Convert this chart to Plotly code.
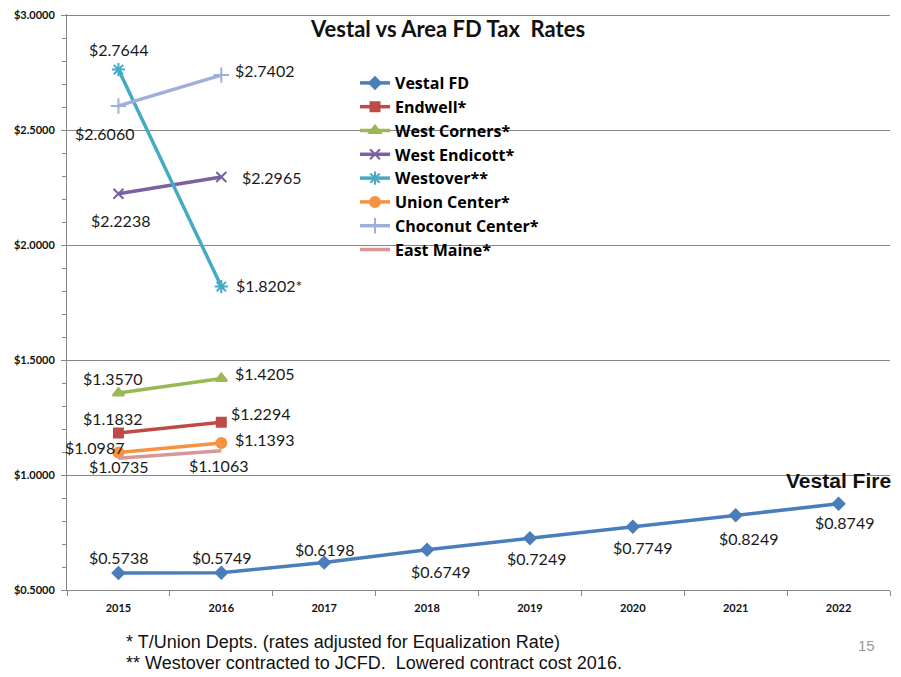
import plotly.graph_objects as go

years = ["2015", "2016", "2017", "2018", "2019", "2020", "2021", "2022"]

vestal_fd = [0.5738, 0.5749, 0.6198, 0.6749, 0.7249, 0.7749, 0.8249, 0.8749]
endwell = [1.1832, 1.2294]
west_corners = [1.3570, 1.4205]
west_endicott = [2.2238, 2.2965]
westover = [2.7644, 1.8202]
union_center = [1.0987, 1.1393]
choconut_center = [2.6060, 2.7402]
east_maine = [1.0735, 1.1063]

y_ticks = [0.5, 1.0, 1.5, 2.0, 2.5, 3.0]

series_names = ["Vestal FD", "Endwell*", "West Corners*", "West Endicott*",
                "Westover**", "Union Center*", "Choconut Center*", "East Maine*"]
series_values = [vestal_fd, endwell, west_corners, west_endicott,
                 westover, union_center, choconut_center, east_maine]

# styles
colors = ["#4A7EBB", "#BE4B48", "#98B954", "#7D60A0",
          "#46AAC5", "#F69240", "#A0AEDC", "#D99795"]
symbols = ["diamond", "square", "triangle-up", "x-thin-open",
           "asterisk-open", "circle", "cross-thin-open", None]
msizes = [9, 9, 10, 10, 11, 10, 11, 0]

# label offsets (px) per series per point: (xshift, yshift)
label_offsets = [
    [(0, 16), (0, 15), (0, 13), (13, -22), (7, -20), (10, -21), (13, -23), (6, -19)],
    [(-6, 14), (39, 9)],
    [(-6, 15), (43, 5)],
    [(2, -27), (50, 0)],
    [(0, 20), (48, 1)],
    [(-24, 5), (43, 4)],
    [(-14, -28), (43, 5)],
    [(0, -8), (-3, -15)],
]
label_extra = {(4, 1): "*"}

# plot area in page pixels (for free text placement); y range slightly padded at top
Y_MIN, Y_MAX = 0.5, 3.006
PL, PR, PB = 67, 890, 590
PX_PER_UNIT = 230.0
PT = round(PB - (Y_MAX - Y_MIN) * PX_PER_UNIT)


def px_to_paper(px, py):
    return (px - PL) / (PR - PL), (PB - py) / (PB - PT)


fig = go.Figure()
for i, (name, vals) in enumerate(zip(series_names, series_values)):
    xs = years[:len(vals)]
    if symbols[i] is None:
        mode = "lines"
        marker = None
    else:
        mode = "lines+markers"
        marker = dict(symbol=symbols[i], size=msizes[i], color=colors[i],
                      line=dict(color=colors[i], width=2))
    fig.add_trace(go.Scatter(
        x=xs, y=vals, name=name, mode=mode,
        line=dict(color=colors[i], width=3.5),
        marker=marker,
    ))
    for j, v in enumerate(vals):
        dx, dy = label_offsets[i][j]
        txt = "${:.4f}".format(v) + label_extra.get((i, j), "")
        fig.add_annotation(x=years.index(xs[j]), y=v, xref="x", yref="y", text=txt,
                           showarrow=False, xshift=dx, yshift=dy,
                           font=dict(family="Lato", size=16, color="#1a1a1a"))

free_text = [
    dict(text="<b>Vestal vs Area FD Tax  Rates</b>", x=447, y=29, size=22, family="Lato", color="#111111", anchor="center"),
    dict(text="<b>Vestal Fire</b>", x=838, y=480, size=21, family="Liberation Sans", color="#111111", anchor="center"),
    dict(text="* T/Union Depts. (rates adjusted for Equalization Rate)", x=124, y=642, size=18, family="Liberation Sans", color="#111111", anchor="left"),
    dict(text="** Westover contracted to JCFD.  Lowered contract cost 2016.", x=124, y=663, size=18, family="Liberation Sans", color="#111111", anchor="left"),
    dict(text="15", x=866, y=645, size=15, family="Liberation Sans", color="#999999", anchor="center"),
]
for a in free_text:
    ax, ay = px_to_paper(a["x"], a["y"])
    fig.add_annotation(text=a["text"], x=ax, y=ay,
                       xref="paper", yref="paper", showarrow=False,
                       xanchor=a["anchor"], yanchor="middle",
                       font=dict(family=a["family"], size=a["size"], color=a["color"]))

W, H = 901, 677
# page has ~8px body offset; compensate in margins
OFFX, OFFY = 8, 8
fig.update_layout(
    width=W, height=H,
    margin=dict(l=PL - OFFX, r=W - PR + OFFX, t=PT - OFFY, b=H - PB + OFFY),
    paper_bgcolor="white", plot_bgcolor="white",
    showlegend=True,
    legend=dict(x=px_to_paper(355, 0)[0], y=px_to_paper(0, 66)[1],
                xanchor="left", yanchor="top",
                bgcolor="rgba(0,0,0,0)", borderwidth=0,
                font=dict(family="Open Sans", size=16, color="#000000", weight=700),
                tracegroupgap=0),
    xaxis=dict(type="category", categoryorder="array", categoryarray=years,
               tickson="boundaries", ticks="outside", ticklen=5,
               tickcolor="#868686", showline=True, linecolor="#868686",
               linewidth=1, showgrid=False, ticklabelstandoff=8,
               automargin=False,
               tickfont=dict(family="Lato", size=11, color="#111111", weight="bold"),
               range=[-0.5, 7.5]),
    yaxis=dict(range=[Y_MIN, Y_MAX], tickmode="array", tickvals=y_ticks,
               ticktext=["${:.4f}".format(t) for t in y_ticks],
               showgrid=True, gridcolor="#868686", gridwidth=1,
               showline=True, linecolor="#868686", linewidth=1,
               ticks="outside", ticklen=5, tickcolor="#868686",
               zeroline=False, ticklabelstandoff=4, automargin=False,
               minor=dict(dtick=0.1, tick0=0.5, ticks="outside", ticklen=4,
                          tickcolor="#868686", showgrid=False),
               tickfont=dict(family="Lato", size=11, color="#111111", weight="bold")),
)

fig.write_html("out.html")
